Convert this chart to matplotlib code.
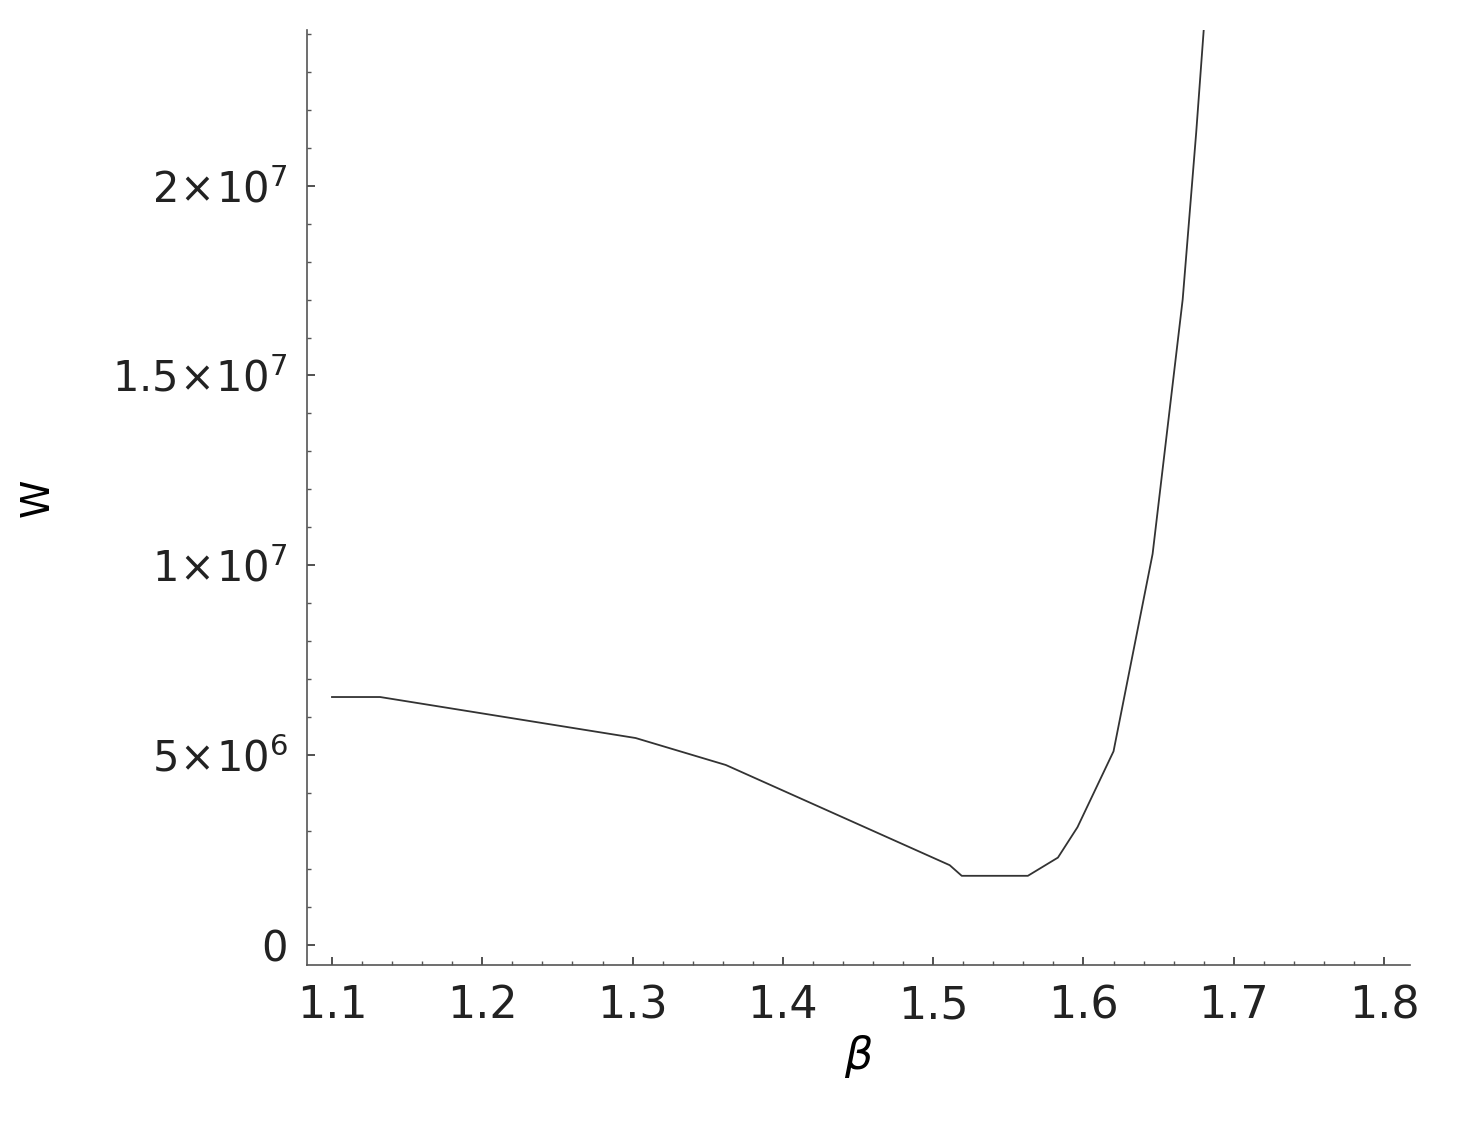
import matplotlib
matplotlib.use("Agg")
import matplotlib.pyplot as plt
from matplotlib.ticker import MultipleLocator

beta = [1.10, 1.132, 1.302, 1.362, 1.511, 1.519, 1.563, 1.583, 1.596, 1.620, 1.646, 1.666, 1.675, 1.680]
W = [6.53e6, 6.53e6, 5.45e6, 4.74e6, 2.10e6, 1.82e6, 1.82e6, 2.30e6, 3.10e6, 5.10e6, 10.3e6, 17.0e6, 21.4e6, 24.1e6]
xticks = [1.1, 1.2, 1.3, 1.4, 1.5, 1.6, 1.7, 1.8]
xlabels = ["1.1", "1.2", "1.3", "1.4", "1.5", "1.6", "1.7", "1.8"]
yticks = [0, 5e6, 1e7, 1.5e7, 2e7]
ylabels = ["0", r"$5\!\times\!10^6$", r"$1\!\times\!10^7$", r"$1.5\!\times\!10^7$", r"$2\!\times\!10^7$"]

plt.rcParams['mathtext.fontset'] = 'dejavusans'
fig = plt.figure(figsize=(14.6, 11.3), dpi=100)
ax = fig.add_axes([0.2103, 0.146, 0.7555, 0.8274])
ax.plot(beta, W, color="#333333", lw=1.3)
ax.set_xlim(1.0834, 1.8173)
ax.set_ylim(-0.53e6, 24.1e6)
for s in ["top", "right"]:
    ax.spines[s].set_visible(False)
for s in ["left", "bottom"]:
    ax.spines[s].set_color("#555555")
    ax.spines[s].set_linewidth(1.2)
ax.set_xticks(xticks)
ax.set_xticklabels(xlabels, fontsize=32, color="#222222")
ax.set_yticks(yticks)
ax.set_yticklabels(ylabels, fontsize=30, color="#222222")
ax.xaxis.set_minor_locator(MultipleLocator(0.02))
ax.yaxis.set_minor_locator(MultipleLocator(1e6))
ax.tick_params(direction="in", length=6, width=1.2, color="#333333", pad=14)
ax.tick_params(which="minor", direction="in", length=3, width=1, color="#555555")
ax.set_xlabel(r"$\beta$", fontsize=32, labelpad=4)
ax.set_ylabel("W", fontsize=28, labelpad=40)
fig.savefig("out.png", dpi=100)
